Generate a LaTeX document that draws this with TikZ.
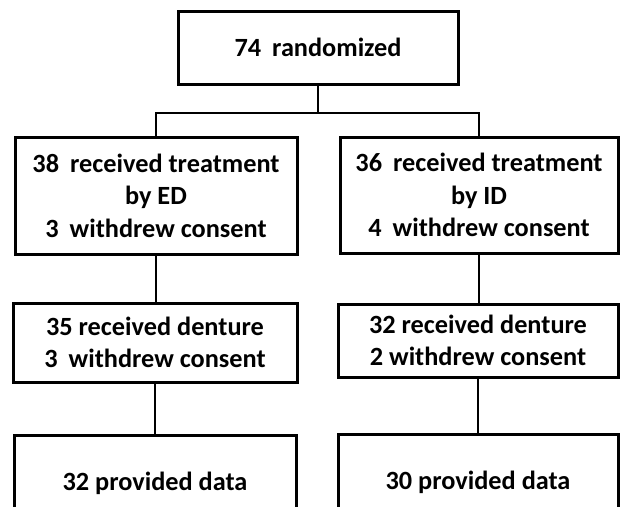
\documentclass[tikz,border=0pt]{standalone}
\usepackage{fontspec}
\setmainfont{Carlito}
\newcommand{\gapw}{\hspace{0.42em}}
\tikzset{
  box/.style={draw=black, line width=3pt, align=center, inner sep=0pt,
    font=\bfseries\fontsize{26.3}{32.5}\selectfont},
  link/.style={draw=black, line width=2.2pt}
}
\begin{document}
\begin{tikzpicture}[x=1pt, y=-1pt]
\useasboundingbox (0,0) rectangle (620,506);
\clip (0,0) rectangle (620,506);
\node[box, minimum width=280pt, minimum height=73pt] (top) at (318,47.5) {74\gapw randomized};
\node[box, minimum width=282pt, minimum height=117pt] (r2l) at (156,195.5) {38\gapw received treatment\\by ED\\3\gapw withdrew consent};
\node[box, minimum width=278pt, minimum height=116pt] (r2r) at (479,195) {36\gapw received treatment\\by ID\\4\gapw withdrew consent};
\node[box, minimum width=284pt, minimum height=79pt] (r3l) at (155,342.5) {35 received denture\\3\gapw withdrew consent};
\node[box, minimum width=280pt, minimum height=73pt] (r3r) at (478,340.5) {32 received denture\\2 withdrew consent};
\node[box, minimum width=282pt, minimum height=96pt] (r4l) at (155,483) {32 provided data};
\node[box, minimum width=280pt, minimum height=96pt] (r4r) at (478,482) {30 provided data};
\coordinate (j) at (318,113);
\draw[link] (top.south) -- (j);
\draw[link] (r2l.north) |- (j) -| (r2r.north);
\draw[link] (r2l.south) -- (r2l.south |- r3l.north);
\draw[link] (r2r.south) -- (r2r.south |- r3r.north);
\draw[link] (r3l.south) -- (r3l.south |- r4l.north);
\draw[link] (r3r.south) -- (r3r.south |- r4r.north);
\end{tikzpicture}
\end{document}
